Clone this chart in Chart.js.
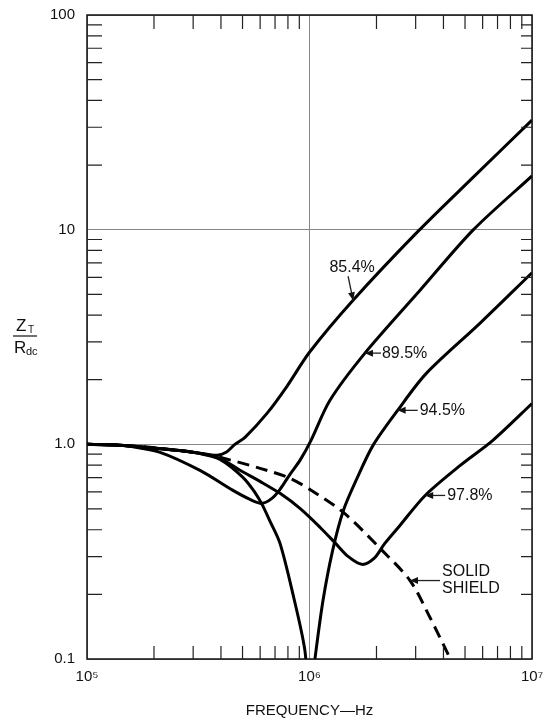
<!DOCTYPE html>
<html><head><meta charset="utf-8">
<script src="https://cdn.jsdelivr.net/npm/chart.js@4/dist/chart.umd.min.js"></script>
<style>html,body{margin:0;padding:0;background:#fff}</style>
</head><body>
<canvas id="c" width="547" height="720" style="width:547px;height:720px;display:block"></canvas>
<script>
// ---- data (frequency in Hz, Z_T/R_dc) ----
const f854 = [1e5,1.4e5,1.9e5,2.6e5,3.2e5,3.84e5,4.22e5,4.62e5,5.13e5,6.44e5,7.92e5,1.0e6,1.57e6,3.08e6,5.55e6,1e7];
const z854 = [1.0,0.99,0.965,0.935,0.91,0.89,0.918,1.0,1.078,1.394,1.864,2.685,4.69,9.84,17.9,32.4];

const f895 = [1e5,1.3e5,1.56e5,2.13e5,3.22e5,4.53e5,5.4e5,6.12e5,6.78e5,7.37e5,8.17e5,9.06e5,1.016e6,1.236e6,1.775e6,3.14e6,5.43e6,1e7];
const z895 = [1.0,0.995,0.979,0.918,0.756,0.61,0.554,0.531,0.56,0.617,0.725,0.842,1.044,1.604,2.66,5.22,9.95,17.8];

const f945 = [1e5,1.4e5,1.9e5,2.6e5,3.22e5,3.96e5,5.02e5,5.68e5,6.12e5,6.65e5,7.37e5,8.41e5,9.53e5,1.0e6,1.06e6,1.15e6,1.27e6,1.42e6,1.635e6,1.93e6,2.49e6,3.35e6,5.83e6,1e7];
const z945 = [1.0,0.99,0.965,0.935,0.905,0.851,0.702,0.598,0.525,0.4375,0.3455,0.202,0.110,0.06,0.1016,0.1875,0.32,0.492,0.694,0.989,1.44,2.14,3.66,6.3];

const f978 = [1e5,1.4e5,1.9e5,2.6e5,3.22e5,3.96e5,4.87e5,5.99e5,7.37e5,9.06e5,1.117e6,1.31e6,1.49e6,1.72e6,1.95e6,2.18e6,2.55e6,3.31e6,4.76e6,6.67e6,1e7];
const z978 = [1.0,0.99,0.965,0.935,0.908,0.861,0.757,0.672,0.591,0.503,0.41,0.3455,0.3005,0.276,0.294,0.3455,0.419,0.578,0.798,1.044,1.55];

const fSolid = [1e5,1.4e5,1.92e5,2.6e5,3.22e5,3.96e5,6.0e5,8.17e5,1.017e6,1.42e6,2.08e6,2.83e6,3.48e6,4.3e6];
const zSolid = [1.0,0.99,0.968,0.935,0.908,0.87,0.773,0.695,0.611,0.482,0.327,0.232,0.156,0.1];

const xTicks = [1e5,1e6,1e7];
const xLabels = ['10\u2075','10\u2076','10\u2077'];
const yTicks = [0.1,1,10,100];
const yLabels = ['0.1','1.0','10','100'];

// annotation labels, anchored on curves (data space)
const noteText = ['85.4%','89.5%','94.5%','97.8%','SOLID|SHIELD'];
const noteFreq = [1.57e6,1.775e6,2.49e6,3.31e6,2.83e6];
const noteZ    = [4.69,2.66,1.44,0.578,0.232];

const FONT = "'Liberation Sans', Arial, Helvetica, sans-serif";
const pts = (f,z)=>f.map((v,i)=>({x:v,y:z[i]}));
const solidStyle = {borderColor:'#000',borderWidth:3,pointRadius:0,fill:false,tension:0.3};

// note styling: [tailDx, tailDy, textDx, textDy, align]
const noteStyle = [
  [-5,-24,-1,-33,'center'],
  [16,0,17,0,'left'],
  [20,0,22,0,'left'],
  [20,0,22,0,'left'],
  [30,0,32,0,'left']
];

function arrow(ctx,x1,y1,x2,y2){
  ctx.beginPath();ctx.moveTo(x1,y1);ctx.lineTo(x2,y2);ctx.stroke();
  const a=Math.atan2(y2-y1,x2-x1), L=8, W=3.5;
  ctx.beginPath();
  ctx.moveTo(x2,y2);
  ctx.lineTo(x2-L*Math.cos(a)+W*Math.sin(a), y2-L*Math.sin(a)-W*Math.cos(a));
  ctx.lineTo(x2-L*Math.cos(a)-W*Math.sin(a), y2-L*Math.sin(a)+W*Math.cos(a));
  ctx.closePath();ctx.fill();
}

const framePlugin = {
  id:'frame',
  afterDraw(chart){
    const {ctx, chartArea:a, scales:{x,y}} = chart;
    ctx.save();
    // frame
    ctx.strokeStyle='#111';ctx.lineWidth=1.5;
    ctx.strokeRect(a.left,a.top,a.right-a.left,a.bottom-a.top);
    // inward minor ticks
    ctx.lineWidth=1.2;ctx.strokeStyle='#222';
    ctx.beginPath();
    for(const d of [1e5,1e6]) for(let m=2;m<=9;m++){
      const px=x.getPixelForValue(m*d);
      ctx.moveTo(px,a.bottom);ctx.lineTo(px,a.bottom-13);
      ctx.moveTo(px,a.top);ctx.lineTo(px,a.top+14);
    }
    for(const d of [0.1,1,10]) for(let m=2;m<=9;m++){
      const py=y.getPixelForValue(m*d);
      ctx.moveTo(a.left,py);ctx.lineTo(a.left+15,py);
      ctx.moveTo(a.right,py);ctx.lineTo(a.right-11,py);
    }
    ctx.stroke();
    // y title as fraction
    ctx.fillStyle='#111';ctx.textBaseline='alphabetic';ctx.textAlign='left';
    ctx.font="17px "+FONT;ctx.fillText('Z',16,331);
    ctx.font="10px "+FONT;ctx.fillText('T',28,333);
    ctx.lineWidth=1.3;ctx.beginPath();ctx.moveTo(13,336);ctx.lineTo(37,336);ctx.stroke();
    ctx.font="17px "+FONT;ctx.fillText('R',14,353);
    ctx.font="11px "+FONT;ctx.fillText('dc',26,355);
    // annotations
    ctx.lineWidth=1.3;ctx.strokeStyle='#222';ctx.fillStyle='#111';
    noteText.forEach((t,i)=>{
      const tx=x.getPixelForValue(noteFreq[i]), ty=y.getPixelForValue(noteZ[i]);
      const s=noteStyle[i];
      arrow(ctx,tx+s[0],ty+s[1],tx,ty);
      ctx.font="16px "+FONT;ctx.textAlign=s[4];ctx.textBaseline='middle';
      const lines=t.split('|');
      if(lines.length===1) ctx.fillText(t,tx+s[2],ty+s[3]);
      else { ctx.fillText(lines[0],tx+s[2],ty-9); ctx.fillText(lines[1],tx+s[2],ty+8); }
    });
    ctx.restore();
  }
};

new Chart(document.getElementById('c'),{
  type:'line',
  data:{datasets:[
    {label:'85.4%',data:pts(f854,z854),...solidStyle},
    {label:'89.5%',data:pts(f895,z895),...solidStyle},
    {label:'94.5%',data:pts(f945,z945),...solidStyle},
    {label:'97.8%',data:pts(f978,z978),...solidStyle},
    {label:'SOLID SHIELD',data:pts(fSolid,zSolid),...solidStyle,borderDash:[12,7],borderCapStyle:'butt'}
  ]},
  options:{
    responsive:false,animation:false,devicePixelRatio:1,
    layout:{padding:{left:0,right:15,top:15,bottom:0}},
    plugins:{legend:{display:false},tooltip:{enabled:false}},
    scales:{
      x:{type:'logarithmic',min:1e5,max:1e7,
        afterBuildTicks:s=>{s.ticks=xTicks.map(v=>({value:v}));},
        afterFit:s=>{s.height=61;s.paddingLeft=0;s.paddingRight=0;},
        ticks:{callback:v=>xLabels[xTicks.indexOf(v)],font:{family:FONT,size:15},color:'#111',maxRotation:0,autoSkip:false,padding:9},
        grid:{color:'#888',lineWidth:1,drawTicks:false},
        border:{display:false},
        title:{display:true,text:'FREQUENCY\u2014Hz',font:{family:FONT,size:15},color:'#111',padding:{top:0,bottom:0}}
      },
      y:{type:'logarithmic',min:0.1,max:100,
        afterBuildTicks:s=>{s.ticks=yTicks.map(v=>({value:v}));},
        afterFit:s=>{s.width=87;s.paddingTop=0;s.paddingBottom=0;},
        ticks:{callback:v=>yLabels[yTicks.indexOf(v)],font:{family:FONT,size:15},color:'#111',autoSkip:false,padding:12},
        grid:{color:'#888',lineWidth:1,drawTicks:false},
        border:{display:false}
      }
    }
  },
  plugins:[framePlugin]
});
</script>
</body></html>
